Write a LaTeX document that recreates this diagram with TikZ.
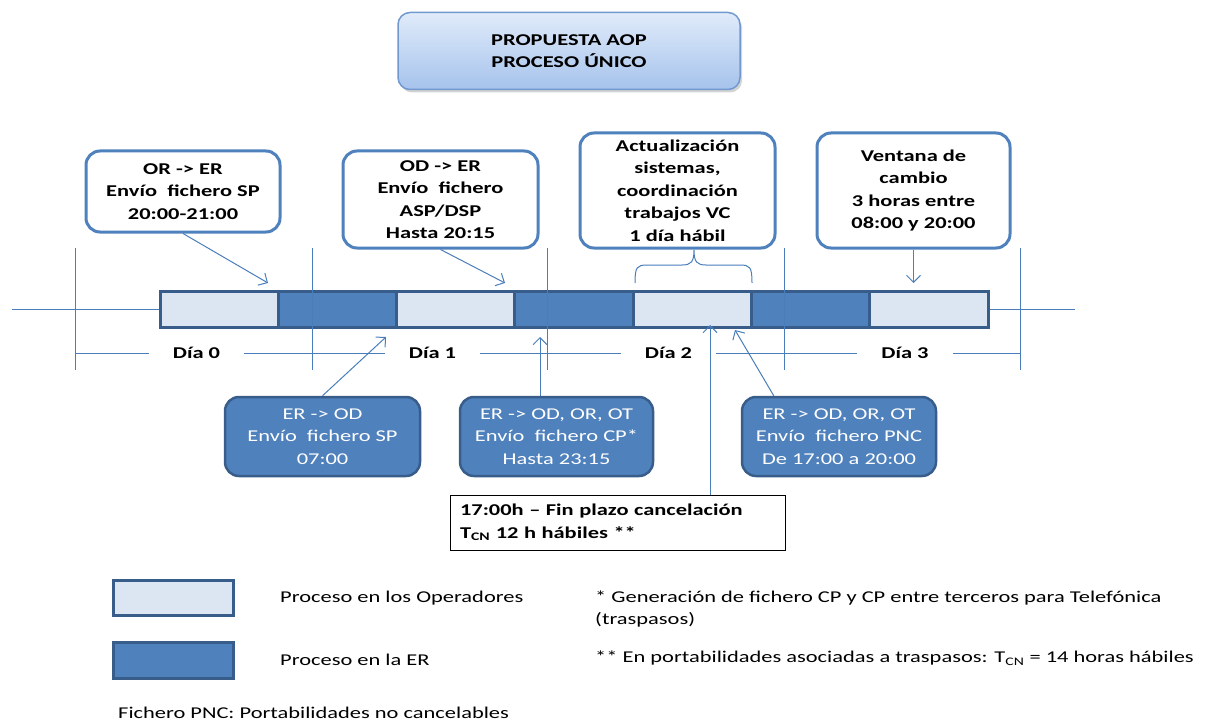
\documentclass[tikz,border=0pt]{standalone}
\usepackage{fontspec}
\setmainfont{Carlito}[FakeStretch=1.36]
\usetikzlibrary{arrows.meta,calc,shadows}
\definecolor{erblue}{HTML}{4F81BD}
\definecolor{erline}{HTML}{385D8A}
\definecolor{oplight}{HTML}{DCE6F2}
\definecolor{guideblue}{HTML}{4A7EBB}
\definecolor{titletop}{HTML}{E0EBFA}
\definecolor{titlebot}{HTML}{A6C3EC}
\definecolor{titleline}{HTML}{7199CF}

\begin{document}
\begin{tikzpicture}[x=1pt,y=-1pt,
  every node/.style={font=\fontsize{16.5}{22.5}\selectfont},
  callout/.style={draw=erblue,line width=3pt,fill=white,rounded corners=14pt,align=center,inner sep=0pt,font=\fontsize{16.5}{22.5}\selectfont\bfseries},
  erbox/.style={draw=erline,line width=2.5pt,fill=erblue,rounded corners=14pt,align=center,inner sep=0pt,text=white},
  seg/.style={draw=erline,line width=3pt,minimum width=118.3pt,minimum height=36pt,inner sep=0pt,outer sep=0pt},
  guide/.style={draw=guideblue,line width=1pt},
  arr/.style={guide,-{Straight Barb[length=7pt,width=14pt]}},
  day/.style={fill=white,inner xsep=24pt,inner ysep=2pt,font=\fontsize{16.5}{22.5}\selectfont\bfseries},
  txt/.style={anchor=west,inner sep=0pt}]
\useasboundingbox (0,0) rectangle (1207,722);

\node (title) at (569,51) [draw=titleline,line width=1.5pt,rounded corners=12pt,top color=titletop,bottom color=titlebot,minimum width=342pt,minimum height=77pt,align=center,font=\fontsize{16.5}{22.5}\selectfont\bfseries,drop shadow={shadow xshift=2pt,shadow yshift=-3pt,opacity=0.35}] {PROPUESTA AOP\\PROCESO ÚNICO};

\coordinate (axl) at (12,309);
\coordinate (axr) at (1075,309);
\draw[guide] (axl) -- (axr);
\foreach \i/\c in {0/oplight,1/erblue,2/oplight,3/erblue,4/oplight,5/erblue,6/oplight}
  \node[seg,fill=\c] (s\i) at ({219.15+118.3*\i},309) {};

\foreach \k/\x in {0/75,1/312,2/547,3/784,4/1020} {
  \coordinate (kt\k) at (\x,248);
  \coordinate (kb\k) at (\x,370);
  \coordinate (kd\k) at (\x,353);
  \draw[guide] (kt\k) -- (kb\k);
}
\draw[guide] (kd0) -- (kd4);
\foreach \i/\j in {0/1,1/2,2/3,3/4}
  \node[day] (d\i) at ($(kd\i)!0.5!(kd\j)+(3,0)$) {Día \i};

\node[callout,minimum width=194pt,minimum height=81pt] (c1) at (183,191.5) {OR -> ER\\Envío\ \ fichero SP\\20:00-21:00};
\node[callout,minimum width=195pt,minimum height=97pt] (c2) at (440.5,199.5) {OD -> ER\\Envío\ \ fichero\\ASP/DSP\\Hasta 20:15};
\node[callout,minimum width=195pt,minimum height=115pt] (c3) at (677.5,190.5) {Actualización\\sistemas,\\coordinación\\trabajos VC\\1 día hábil};
\node[callout,minimum width=193pt,minimum height=115pt] (c4) at (913.5,190.5) {Ventana de\\cambio\\3 horas entre\\08:00 y 20:00};

\coordinate (brl) at (635,283);
\coordinate (brr) at (752,283);
\coordinate (brt) at (694,250);
\draw[guide] (brl) .. controls (635,267) and (637,265) .. (647,265) -- (682,265) .. controls (691,265) and (694,262) .. (brt) .. controls (694,262) and (697,265) .. (706,265) -- (740,265) .. controls (750,265) and (752,267) .. (brr);

\coordinate (p1) at (268,283);
\coordinate (p2) at (505,283);
\coordinate (p4) at (913.5,283);
\draw[arr] (c1.south) -- (p1);
\draw[arr] (c2.south) -- (p2);
\draw[arr] (c4.south) -- (p4);

\node[erbox,minimum width=195pt,minimum height=79pt] (b1) at (322.5,436.5) {ER -> OD\\Envío\ \ fichero SP\\07:00};
\node[erbox,minimum width=193pt,minimum height=79pt] (b2) at (556.5,436.5) {ER -> OD, OR, OT\\Envío\ \ fichero CP*\\Hasta 23:15};
\node[erbox,minimum width=194pt,minimum height=79pt] (b3) at (839,436.5) {ER -> OD, OR, OT\\Envío\ \ fichero PNC\\De 17:00 a 20:00};

\node[draw=black,line width=0.8pt,minimum height=55pt,text width=315pt,inner xsep=10pt,align=left,font=\fontsize{16.5}{22.5}\selectfont\bfseries] (note) at (617.5,522.5) {17:00h -- Fin plazo cancelación\\T\textsubscript{CN} 12 h hábiles **};

\coordinate (q1) at (386,337);
\coordinate (q2) at (540,337);
\coordinate (q3) at (735,330);
\coordinate (q4) at (710,325);
\draw[arr] (b1.north) -- (q1);
\draw[arr] (b2.north -| q2) -- (q2);
\draw[arr] ($(b3.north west)+(33,0)$) -- (q3);
\draw[arr] (note.north -| q4) -- (q4);

\node[seg,fill=oplight,minimum width=120pt,minimum height=35pt] (l1) at (173,597.5) {};
\node[seg,fill=erblue,minimum width=120pt,minimum height=36pt] (l2) at (173,660) {};
\node[txt] (t1) at (280,598) {Proceso en los Operadores};
\node[txt] (t2) at (280,660) {Proceso en la ER};
\node[txt] (f1) at (595,598) {* Generación de fichero CP y CP entre terceros para Telefónica};
\node[txt] (f2) at (595,620) {(traspasos)};
\node[txt] (f3) at (595,658) {** En portabilidades asociadas a traspasos: T\textsubscript{CN} = 14 horas hábiles};
\node[txt] (f4) at (118,713) {Fichero PNC: Portabilidades no cancelables};
\end{tikzpicture}
\end{document}
